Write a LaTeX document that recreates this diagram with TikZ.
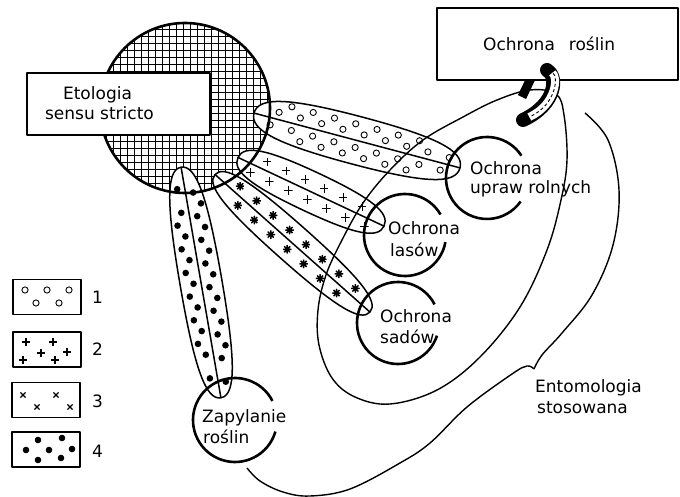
\documentclass[tikz,border=0pt]{standalone}
\usepackage{fontspec}
\setmainfont{DejaVu Sans}
\usetikzlibrary{calc}
% #1 a, #2 b, #3 step, #4 off1, #5 off2, #6 node style, #7 margin, #8 band id
\newcommand\bandsyms[8]{%
  \foreach \k in {-25,...,25}{%
    \pgfmathtruncatemacro\kk{\k+30}%
    \pgfmathsetmacro\xu{\k*#3}%
    \pgfmathsetmacro\xl{\k*#3+0.5*#3}%
    \pgfmathsetmacro\oo{ifthenelse(mod(abs(\k),2)==0,#4,#5)*#2}%
    \pgfmathsetmacro\hu{#2*pow(max(1-pow(abs(\xu)/#1+0.0001,2.5),0.0001),0.4)}%
    \pgfmathsetmacro\hl{#2*pow(max(1-pow(abs(\xl)/#1+0.0001,2.5),0.0001),0.4)}%
    \pgfmathtruncatemacro\oku{((\oo+#7)<\hu)}%
    \pgfmathtruncatemacro\okl{((\oo+#7)<\hl)}%
    \ifnum\oku=1 \node[#6] (#8u\kk) at (\xu,\oo) {};\fi
    \ifnum\okl=1 \node[#6] (#8l\kk) at (\xl,-\oo) {};\fi
  }%
}
\begin{document}
\begin{tikzpicture}[x=1pt,y=-1pt,line join=round,
  lbl/.style={font=\fontsize{17}{20}\selectfont, inner sep=0pt},
  thickc/.style={line width=2.6pt},
  bandline/.style={line width=1.5pt},
  loopline/.style={line width=1.4pt},
  hatch/.style={line width=1.5pt},
  box/.style={draw, line width=2.4pt, fill=white, inner sep=0pt},
  legbox/.style={draw, line width=1.8pt, fill=white, inner sep=0pt, minimum width=68pt, minimum height=35pt},
  bandshape/.style args={#1/#2}{insert path={(-#1,0) .. controls (-#1,0.72*#2) and (-0.72*#1,#2) .. (0,#2) .. controls (0.72*#1,#2) and (#1,0.72*#2) .. (#1,0) .. controls (#1,-0.72*#2) and (0.72*#1,-#2) .. (0,-#2) .. controls (-0.72*#1,-#2) and (-#1,-0.72*#2) .. (-#1,0) -- cycle}},
  ocsym/.style={circle, draw, line width=0.9pt, minimum size=6.2pt, inner sep=0pt},
  dtsym/.style={circle, fill, minimum size=6.6pt, inner sep=0pt},
  plsym/.style={rectangle, minimum size=8.5pt, inner sep=0pt, path picture={\draw[line width=1.1pt] (path picture bounding box.north)--(path picture bounding box.south) (path picture bounding box.west)--(path picture bounding box.east);}},
  astsym/.style={circle, minimum size=8.8pt, inner sep=0pt, path picture={\draw[line width=1.5pt] (path picture bounding box.north)--(path picture bounding box.south) (path picture bounding box.west)--(path picture bounding box.east) (path picture bounding box.north east)--(path picture bounding box.south west) (path picture bounding box.north west)--(path picture bounding box.south east);}},
  crsym/.style={circle, minimum size=7.4pt, inner sep=0pt, path picture={\draw[line width=1.1pt] (path picture bounding box.north east)--(path picture bounding box.south west) (path picture bounding box.north west)--(path picture bounding box.south east);}},
]
\useasboundingbox (0,0) rectangle (680,497);

% big hatched circle
\coordinate (eto) at (185,108);
\begin{scope}
  \clip (eto) circle[radius=85pt];
  \foreach \i in {0,...,26}{
    \draw[hatch] ({99.5+\i*7},20) -- ({99.5+\i*7},196);
    \draw[hatch] (98,{22.5+\i*7}) -- (280,{22.5+\i*7});
  }
\end{scope}

% bands
\begin{scope}[shift={(357,140.5)}, rotate=-14.9]
  \draw[bandline, fill=white, bandshape=106.6/24];
  \draw[bandline] (-106.6,0) -- (106.6,0);
  \bandsyms{106.6}{24}{11}{0.3}{0.66}{ocsym}{3.8}{ba}
\end{scope}
\begin{scope}[shift={(311,191.8)}, rotate=-25.2]
  \draw[bandline, fill=white, bandshape=80.7/20];
  \draw[bandline] (-80.7,0) -- (80.7,0);
  \bandsyms{80.7}{20}{21}{0.42}{0.42}{plsym}{5}{bb}
\end{scope}
\begin{scope}[shift={(292.5,243.3)}, rotate=-41.6]
  \draw[bandline, fill=white, bandshape=103.6/19];
  \draw[bandline] (-103.6,0) -- (103.6,0);
  \bandsyms{103.6}{19}{22}{0.42}{0.42}{astsym}{5}{bc}
\end{scope}
\begin{scope}[shift={(201,282.5)}, rotate=-80.2]
  \draw[bandline, fill=white, bandshape=117/21];
  \draw[bandline] (-117,0) -- (117,0);
  \bandsyms{117}{21}{12}{0.36}{0.64}{dtsym}{4}{bd}
\end{scope}

\draw[thickc] (eto) circle[radius=85pt];

% Etologia box
\node[box, minimum width=183pt, minimum height=62pt] (etobox) at (118.5,104) {};
\node[lbl, anchor=base] (eto1) at (97.5,100) {Etologia};
\node[lbl, anchor=base] (eto2) at (99.5,119.5) {sensu stricto};

% small circles
\coordinate (cup) at (487,178);
\coordinate (clas) at (405,235);
\coordinate (csad) at (398,323);
\coordinate (czap) at (235,420);
\draw[thickc] (cup) ++(33:41pt) arc[start angle=33, end angle=325, radius=41pt];
\draw[thickc] (clas) ++(30:41pt) arc[start angle=30, end angle=350, radius=41pt];
\draw[thickc] (csad) ++(27:41pt) arc[start angle=27, end angle=342, radius=41pt];
\draw[thickc] (czap) ++(27:42pt) arc[start angle=27, end angle=344, radius=42pt];

\node[lbl, anchor=base west] (up1) at (470,175) {Ochrona};
\node[lbl, anchor=base west] (up2) at (470,193.5) {upraw rolnych};
\node[lbl, anchor=base west] (la1) at (388,235) {Ochrona};
\node[lbl, anchor=base west] (la2) at (390,256) {lasów};
\node[lbl, anchor=base west] (sa1) at (380,322) {Ochrona};
\node[lbl, anchor=base west] (sa2) at (380,343) {sadów};
\node[lbl, anchor=base west] (za1) at (202,422) {Zapylanie};
\node[lbl, anchor=base west] (za2) at (203,443) {roślin};
\node[lbl, anchor=base west] (en1) at (535,392) {Entomologia};
\node[lbl, anchor=base west] (en2) at (537,413) {stosowana};

% legend
\node[legbox] (lg1) at (47,297) {};
\node[legbox] (lg2) at (47,349.5) {};
\node[legbox] (lg3) at (46,400) {};
\node[legbox] (lg4) at (46,449.5) {};
\foreach \p [count=\c] in {(25,290),(47,290),(69,290),(36,303),(59,303)} \node[ocsym] (la\c) at \p {};
\foreach \p [count=\c] in {(26,342),(53,342),(41,353),(67,352),(23,360),(55,360)} \node[plsym] (lb\c) at \p {};
\foreach \p [count=\c] in {(23,395),(56,395),(37,407),(70,407)} \node[crsym] (lc\c) at \p {};
\foreach \p [count=\c] in {(38,440),(62,438),(26,450),(49,450),(72,449),(38,460),(61,458)} \node[dtsym] (ld\c) at \p {};
\node[lbl, anchor=base] (n1) at (97.5,303) {1};
\node[lbl, anchor=base] (n2) at (97.5,355) {2};
\node[lbl, anchor=base] (n3) at (97.5,407) {3};
\node[lbl, anchor=base] (n4) at (97.5,457) {4};

% chain link, back part
\draw[line width=9pt] (533,74) -- (522,97);

% Ochrona roslin box
\node[box, minimum width=241pt, minimum height=72pt] (orbox) at (557.5,44) {};
\node[lbl, anchor=base west] (or) at (483,51) {Ochrona\hspace{14pt}roślin};

% Entomologia loops
\draw[loopline] plot[smooth cycle, tension=0.6] coordinates {(530,90) (556,94) (564,115) (567,160) (561,200) (547,250) (520,307) (480,357) (437,390) (390,404) (355,397) (332,378) (319,345) (318,310) (326,275) (342,240) (363,203) (390,170) (423,140) (463,117) (497,100)};
\draw[loopline] plot[smooth, tension=0.6] coordinates {(585,113) (608,140) (619,190) (613,245) (592,295) (562,333) (542,355) (534,369)};
\draw[loopline] plot[smooth, tension=0.6] coordinates {(534,369) (527,366) (512,374) (467,407) (430,443) (400,463) (350,489) (310,496) (283,492) (260,481) (247,468)};

% chain link, front part
\draw[line width=14pt, line cap=round] (547,70) .. controls (558,76) and (557,104) .. (523,120);
\draw[white, line width=8pt, shorten <=6pt, shorten >=7pt] (547,70) .. controls (558,76) and (557,104) .. (523,120);
\draw[line width=0.9pt, dash pattern=on 3pt off 2.5pt, shorten <=7pt, shorten >=8pt] (547,70) .. controls (558,76) and (557,104) .. (523,120);
\end{tikzpicture}
\end{document}
